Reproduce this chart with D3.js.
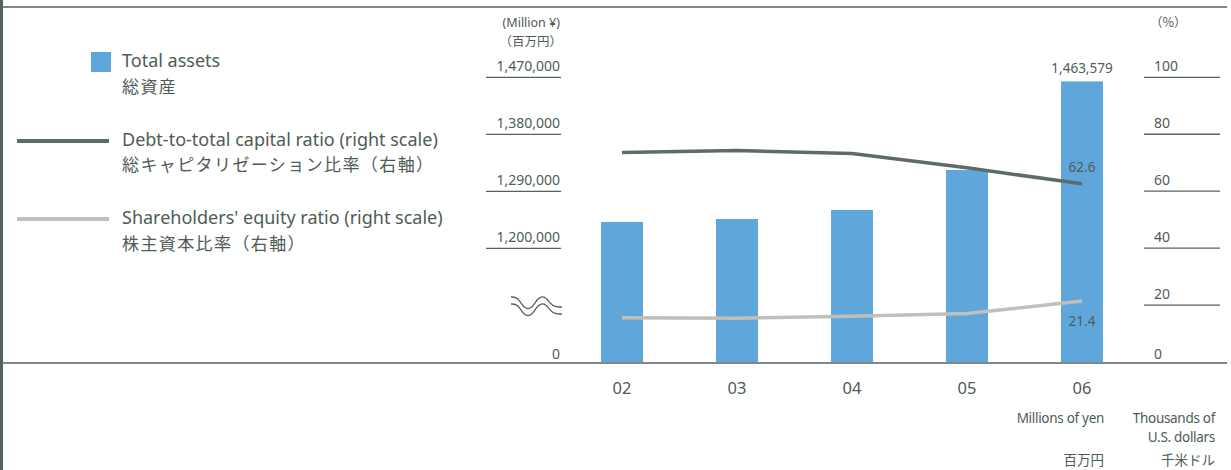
<!DOCTYPE html>
<html>
<head>
<meta charset="utf-8">
<script src="https://cdn.jsdelivr.net/npm/d3@7"></script>
<style>
  html, body { margin: 0; padding: 0; background: #fff; }
  svg { display: block; }
  text { font-family: "Noto Sans", "Noto Sans CJK JP", sans-serif; fill: #4e5b56; }
  .jp { font-family: "Noto Sans CJK JP", "Noto Sans", sans-serif; }
</style>
</head>
<body>
<svg id="chart" width="1231" height="470"></svg>
<script>
// ---- data ----
const years = ["02", "03", "04", "05", "06"];
const totalAssets = [1241500, 1246300, 1260500, 1323600, 1463579];
const debtRatio = [73.6, 74.3, 73.2, 68.2, 62.6];
const equityRatio = [15.5, 15.4, 16.1, 17.0, 21.4];
const leftTicks = [1200000, 1290000, 1380000, 1470000];
const rightTicks = [0, 20, 40, 60, 80, 100];

const C = { text: "#4e5b56", bar: "#5fa7db", dark: "#5f6b66", light: "#c2beb9", rule: "#56625d" };

const svg = d3.select("#chart");
const baseY = 362;

const x = d3.scalePoint().domain(years).range([622, 1082]);
const yL = d3.scaleLinear().domain([1200000, 1470000]).range([248.3, 77.3]);
const yR = d3.scaleLinear().domain([0, 100]).range([baseY, 77.3]);
const barW = 42;

// frame
svg.append("line").attr("x1", 0).attr("x2", 1227).attr("y1", 7).attr("y2", 7)
  .attr("stroke", C.rule).attr("stroke-width", 1.5);
svg.append("line").attr("x1", 1.5).attr("x2", 1.5).attr("y1", 0).attr("y2", 470)
  .attr("stroke", C.rule).attr("stroke-width", 3);

// bars
svg.append("g").selectAll("rect").data(years).join("rect")
  .attr("x", d => x(d) - barW / 2)
  .attr("width", barW)
  .attr("y", (d, i) => yL(totalAssets[i]))
  .attr("height", (d, i) => baseY - yL(totalAssets[i]))
  .attr("fill", C.bar);

// baseline
svg.append("line").attr("x1", 0).attr("x2", 1227).attr("y1", 363).attr("y2", 363)
  .attr("stroke", C.rule).attr("stroke-width", 1.6);

// left axis ticks
const fmt = d3.format(",");
const gl = svg.append("g");
leftTicks.forEach(t => {
  gl.append("line").attr("x1", 486).attr("x2", 561).attr("y1", yL(t)).attr("y2", yL(t))
    .attr("stroke", C.rule).attr("stroke-width", 1.3);
  gl.append("text").attr("x", 560).attr("y", yL(t) - 6).attr("text-anchor", "end")
    .attr("font-size", 14).text(fmt(t));
});
gl.append("text").attr("x", 560).attr("y", 359).attr("text-anchor", "end").attr("font-size", 14).text("0");
gl.append("text").attr("x", 560).attr("y", 27).attr("text-anchor", "end").attr("font-size", 12.5).text("(Million ¥)");
gl.append("text").attr("class", "jp").attr("x", 562).attr("y", 46).attr("text-anchor", "end").attr("font-size", 12.5).text("（百万円）");

// break symbol
const wave = d3.line().curve(d3.curveBasis);
[0, 7].forEach(off => {
  svg.append("path")
    .attr("d", wave([[511, 297 + off], [518, 297 + off], [524, 309 + off], [532, 309 + off], [538, 297 + off], [546, 296 + off], [552, 307 + off], [562, 307 + off]]))
    .attr("fill", "none").attr("stroke", C.rule).attr("stroke-width", 1.3);
});

// right axis
const gr = svg.append("g");
rightTicks.forEach(t => {
  if (t > 0) {
    gr.append("line").attr("x1", 1144).attr("x2", 1220).attr("y1", yR(t)).attr("y2", yR(t))
      .attr("stroke", C.rule).attr("stroke-width", 1.3);
    gr.append("text").attr("x", 1154).attr("y", yR(t) - 6).attr("font-size", 14).text(t);
  } else {
    gr.append("text").attr("x", 1154).attr("y", 359).attr("font-size", 14).text(t);
  }
});
gr.append("text").attr("class", "jp").attr("x", 1150).attr("y", 27).attr("font-size", 12.5).text("（%）");

// lines
const line = d3.line().x(d => x(d[0])).y(d => yR(d[1]));
svg.append("path").datum(years.map((y, i) => [y, debtRatio[i]]))
  .attr("d", line).attr("fill", "none").attr("stroke", C.dark).attr("stroke-width", 3.5);
svg.append("path").datum(years.map((y, i) => [y, equityRatio[i]]))
  .attr("d", line).attr("fill", "none").attr("stroke", C.light).attr("stroke-width", 3.5);

// value labels
const last = years.length - 1;
svg.append("text").attr("x", x(years[last])).attr("y", yL(totalAssets[last]) - 8)
  .attr("text-anchor", "middle").attr("font-size", 13.5).text(fmt(totalAssets[last]));
svg.append("text").attr("x", x(years[last])).attr("y", yR(debtRatio[last]) - 12)
  .attr("text-anchor", "middle").attr("font-size", 13.5).text(debtRatio[last].toFixed(1));
svg.append("text").attr("x", x(years[last])).attr("y", yR(equityRatio[last]) + 25)
  .attr("text-anchor", "middle").attr("font-size", 13.5).text(equityRatio[last].toFixed(1));

// x labels
svg.append("g").selectAll("text").data(years).join("text")
  .attr("x", d => x(d)).attr("y", 394).attr("text-anchor", "middle")
  .attr("font-size", 16.5).text(d => d);

// unit notes
const notes = svg.append("g").attr("font-size", 13.5);
notes.append("text").attr("x", 1104).attr("y", 423).attr("text-anchor", "end").attr("letter-spacing", -0.3).text("Millions of yen");
notes.append("text").attr("x", 1215).attr("y", 423).attr("text-anchor", "end").attr("letter-spacing", -0.3).text("Thousands of");
notes.append("text").attr("x", 1215).attr("y", 442).attr("text-anchor", "end").attr("letter-spacing", -0.3).text("U.S. dollars");
notes.append("text").attr("class", "jp").attr("x", 1104).attr("y", 465).attr("text-anchor", "end").attr("font-size", 13.5).text("百万円");
notes.append("text").attr("class", "jp").attr("x", 1215).attr("y", 465).attr("text-anchor", "end").attr("font-size", 13.5).text("千米ドル");

// legend
const lg = svg.append("g");
lg.append("rect").attr("x", 91).attr("y", 52).attr("width", 20).attr("height", 20).attr("fill", C.bar);
lg.append("line").attr("x1", 17).attr("x2", 109).attr("y1", 141).attr("y2", 141).attr("stroke", C.dark).attr("stroke-width", 4);
lg.append("line").attr("x1", 17).attr("x2", 109).attr("y1", 219).attr("y2", 219).attr("stroke", C.light).attr("stroke-width", 4);
const legendItems = [
  ["Total assets", "総資産", 67, 93],
  ["Debt-to-total capital ratio (right scale)", "総キャピタリゼーション比率（右軸）", 146, 171],
  ["Shareholders' equity ratio (right scale)", "株主資本比率（右軸）", 224, 250]
];
legendItems.forEach(([en, jp, y1, y2]) => {
  lg.append("text").attr("x", 122).attr("y", y1).attr("font-size", 18).text(en);
  lg.append("text").attr("class", "jp").attr("x", 122).attr("y", y2).attr("font-size", 17)
    .attr("letter-spacing", 1.4).text(jp);
});
</script>
</body>
</html>
